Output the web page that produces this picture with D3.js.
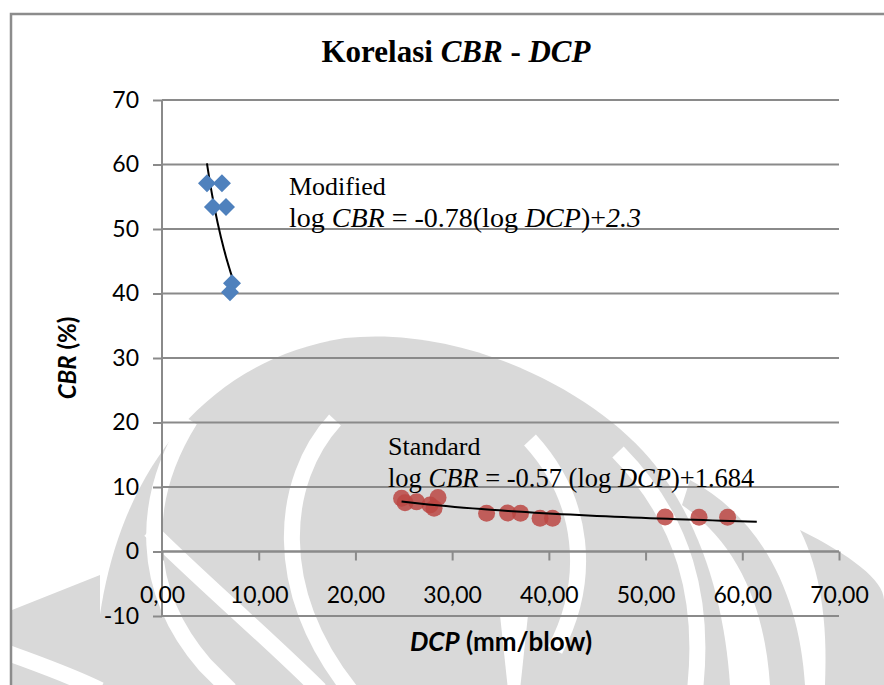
<!DOCTYPE html>
<html>
<head>
<meta charset="utf-8">
<script src="https://cdn.jsdelivr.net/npm/d3@7"></script>
<style>
  html, body { margin: 0; padding: 0; background: #ffffff; }
  svg { display: block; }
</style>
</head>
<body>
<svg id="chart" width="884" height="685"></svg>
<script>
// Tick values and their labels
const xTicks = [0, 10, 20, 30, 40, 50, 60, 70];
const xTickLabels = ["0,00", "10,00", "20,00", "30,00", "40,00", "50,00", "60,00", "70,00"];
const yTicks = [-10, 0, 10, 20, 30, 40, 50, 60, 70];
const yTickLabels = ["-10", "0", "10", "20", "30", "40", "50", "60", "70"];

// Modified Proctor test points (DCP in mm/blow, CBR in %)
const modifiedDCP = [4.65, 6.2, 5.27, 6.62, 7.24, 7.03];
const modifiedCBR = [57.1, 57.1, 53.4, 53.4, 41.6, 40.2];

// Standard Proctor test points
const standardDCP = [24.77, 25.13, 26.32, 27.71, 28.54, 28.13, 33.56, 35.73, 37.07, 39.09, 40.38, 52.02, 55.53, 58.48];
const standardCBR = [8.25, 7.57, 7.72, 7.21, 8.37, 6.70, 5.92, 5.97, 5.92, 5.15, 5.15, 5.35, 5.30, 5.30];

// Power-law fits: log CBR = slope * log DCP + intercept
const modifiedFit = [-0.78, 2.3];
const standardFit = [-0.57, 1.684];
const modifiedFitRange = [4.65, 7.24];
const standardFitRange = [24.77, 61.5];

const svg = d3.select("#chart");
const sans = "Lato, 'Open Sans', sans-serif";
const serif = "'Liberation Serif', 'Times New Roman', serif";

// ---- faint emblem in the background ----
const wm = svg.append("g").attr("class", "watermark");
const wmGray = "#d9d9d9";
wm.append("path").attr("fill", wmGray)
  .attr("d", "M 95 685 C 95 520 175 365 345 338 C 470 325 600 395 655 465 C 705 530 725 610 730 685 Z");
wm.append("path").attr("fill", wmGray)
  .attr("d", "M 690 480 C 765 520 800 600 805 685 L 770 685 C 765 610 740 545 682 505 Z");
wm.append("path").attr("fill", wmGray)
  .attr("d", "M 800 530 C 850 555 884 580 884 600 L 884 685 L 825 685 C 828 620 820 570 800 530 Z");
wm.append("path").attr("fill", wmGray)
  .attr("d", "M 12 610 L 100 575 L 100 685 L 12 685 Z");
const whiteBands = [
  "M 190 420 C 140 500 140 590 205 665 L 230 690",
  "M 335 420 C 280 480 270 590 350 690",
  "M 530 440 C 585 500 592 580 555 650",
  "M 618 452 C 685 520 705 600 695 690",
  "M 0 650 C 40 665 70 675 100 690",
  "M 150 530 C 200 580 270 640 320 690"
];
whiteBands.forEach(d => wm.append("path").attr("d", d)
  .attr("fill", "none").attr("stroke", "#ffffff").attr("stroke-width", 16));
wm.append("path").attr("fill", "#ffffff")
  .attr("d", "M 500 615 L 528 615 L 520 690 L 508 690 Z");

// ---- outer frame ----
svg.append("path")
  .attr("d", "M 11 690 L 11 14 L 890 14")
  .attr("fill", "none").attr("stroke", "#8c8c8c").attr("stroke-width", 2.5);

// ---- scales ----
const x = d3.scaleLinear().domain([0, 70]).range([162, 839]);
const y = d3.scaleLinear().domain([-10, 70]).range([616, 100]);

const gridColor = "#8a8a8a";

// horizontal gridlines
svg.append("g").selectAll("line").data(yTicks).join("line")
  .attr("x1", x(0)).attr("x2", x(70))
  .attr("y1", d => y(d)).attr("y2", d => y(d))
  .attr("stroke", gridColor).attr("stroke-width", 2);

// vertical axis with tick labels
const yAxis = svg.append("g")
  .attr("transform", `translate(${x(0)},0)`)
  .call(d3.axisLeft(y).tickValues(yTicks).tickSize(9).tickPadding(14)
    .tickFormat((d, i) => yTickLabels[i]));
yAxis.select(".domain").remove();
yAxis.selectAll(".tick line").attr("stroke", gridColor).attr("stroke-width", 2);
yAxis.selectAll(".tick text")
  .attr("font-family", sans).attr("font-size", 23).attr("fill", "#000");
svg.append("line")
  .attr("x1", x(0)).attr("x2", x(0)).attr("y1", y(70)).attr("y2", y(-10))
  .attr("stroke", gridColor).attr("stroke-width", 2);

// horizontal axis through zero
const xAxis = svg.append("g")
  .attr("transform", `translate(0,${y(0)})`)
  .call(d3.axisBottom(x).tickValues(xTicks).tickSize(9).tickFormat((d, i) => xTickLabels[i]));
xAxis.select(".domain").remove();
xAxis.selectAll(".tick line").attr("stroke", gridColor).attr("stroke-width", 2);
xAxis.selectAll(".tick text")
  .attr("y", 51).attr("dy", null)
  .attr("font-family", sans).attr("font-size", 23).attr("fill", "#000");
svg.append("line")
  .attr("x1", x(0)).attr("x2", x(70)).attr("y1", y(0)).attr("y2", y(0))
  .attr("stroke", gridColor).attr("stroke-width", 2);

// ---- trend lines ----
function fitCurve(fit, range) {
  const pts = d3.range(0, 41).map(i => {
    const d = range[0] + (range[1] - range[0]) * i / 40;
    return [d, Math.pow(10, fit[0] * Math.log10(d) + fit[1])];
  });
  return d3.line().x(p => x(p[0])).y(p => y(p[1]))(pts);
}
svg.append("path").attr("d", fitCurve(modifiedFit, modifiedFitRange))
  .attr("fill", "none").attr("stroke", "#000").attr("stroke-width", 2);

// ---- standard points (red circles) ----
svg.append("g").selectAll("circle").data(standardDCP).join("circle")
  .attr("cx", d => x(d)).attr("cy", (d, i) => y(standardCBR[i]))
  .attr("r", 8.5).attr("fill", "#bb4643").attr("fill-opacity", 0.85);
svg.append("path").attr("d", fitCurve(standardFit, standardFitRange))
  .attr("fill", "none").attr("stroke", "#000").attr("stroke-width", 2);

// ---- modified points (blue diamonds) ----
svg.append("g").selectAll("path.mod").data(modifiedDCP).join("path")
  .attr("class", "mod")
  .attr("transform", (d, i) => `translate(${x(d)},${y(modifiedCBR[i])})`)
  .attr("d", "M 0 -9 L 9 0 L 0 9 L -9 0 Z")
  .attr("fill", "#4f81bd");

// ---- title ----
const title = svg.append("text")
  .attr("x", 456).attr("y", 62).attr("text-anchor", "middle")
  .attr("font-family", serif)
  .attr("font-size", 31).attr("font-weight", "bold").attr("fill", "#000");
title.append("tspan").text("Korelasi ");
title.append("tspan").attr("font-style", "italic").text("CBR");
title.append("tspan").text(" - ");
title.append("tspan").attr("font-style", "italic").text("DCP");

// ---- axis titles ----
const yTitle = svg.append("text")
  .attr("transform", "translate(76,358) rotate(-90)").attr("text-anchor", "middle")
  .attr("font-family", sans).attr("font-size", 24)
  .attr("font-weight", "bold").attr("fill", "#000");
yTitle.append("tspan").attr("font-style", "italic").text("CBR");
yTitle.append("tspan").text(" (%)");

const xTitle = svg.append("text")
  .attr("x", 501).attr("y", 651).attr("text-anchor", "middle")
  .attr("font-family", sans).attr("font-size", 26)
  .attr("font-weight", "bold").attr("fill", "#000");
xTitle.append("tspan").attr("font-style", "italic").text("DCP");
xTitle.append("tspan").text(" (mm/blow)");

// ---- equation labels ----
function equationLabel(x0, y0, heading, parts, size) {
  const g = svg.append("g")
    .attr("font-family", serif).attr("font-size", 26).attr("fill", "#000");
  g.append("text").attr("x", x0).attr("y", y0).text(heading);
  const t = g.append("text").attr("x", x0).attr("y", y0 + 32).attr("font-size", size);
  parts.forEach(p => t.append("tspan").attr("font-style", p[1] ? "italic" : null).text(p[0]));
}
equationLabel(289, 195, "Modified", [
  ["log ", false], ["CBR", true], [" = -0.78(log ", false], ["DCP", true], [")+", false], ["2.3", true]
], 28);
equationLabel(388, 455, "Standard", [
  ["log ", false], ["CBR", true], [" = -0.57 (log ", false], ["DCP", true], [")+1.684", false]
], 26.5);
</script>
</body>
</html>
